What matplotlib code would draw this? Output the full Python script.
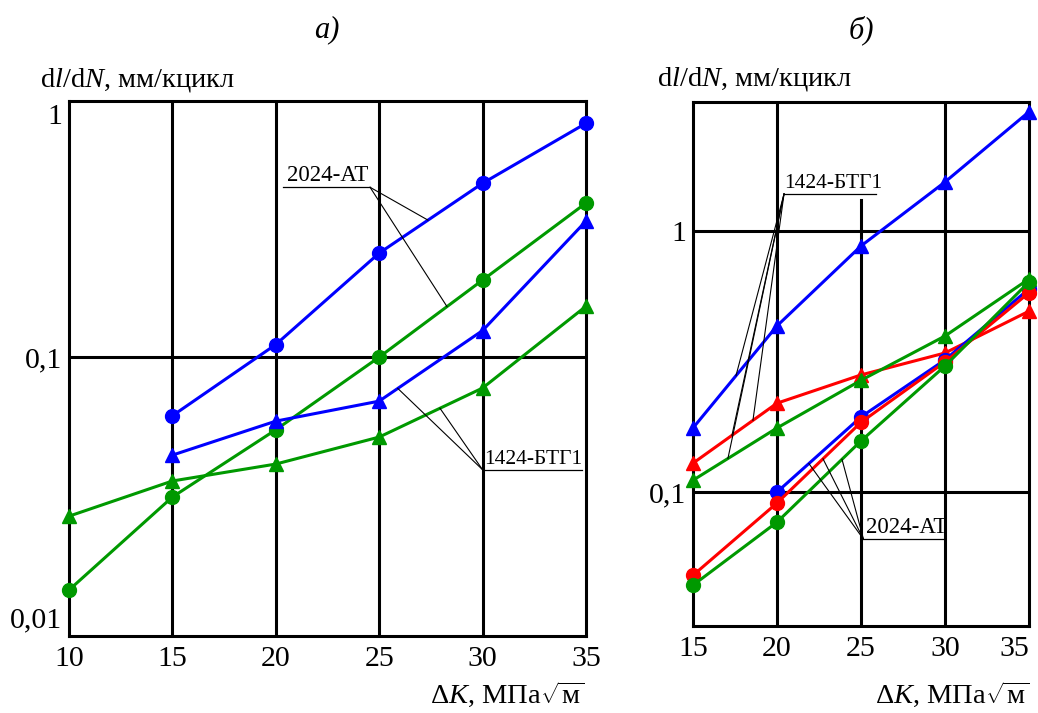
import numpy as np
import matplotlib.pyplot as plt
import matplotlib.transforms as mtransforms

plt.rcParams['font.family'] = ['Liberation Serif', 'DejaVu Serif']
plt.rcParams['mathtext.fontset'] = 'custom'
plt.rcParams['mathtext.rm'] = 'Liberation Serif'
plt.rcParams['mathtext.it'] = 'Liberation Serif:italic'

BLUE = '#0000ff'
GREEN = '#009900'
RED = '#ff0000'

# --- panel a) ---
a_x_all = [10, 15, 20, 25, 30, 35]
a_x_15 = [15, 20, 25, 30, 35]
a_blue_circ = [0.059, 0.112, 0.255, 0.478, 0.82]            # 2024-AT
a_green_circ = [0.0123, 0.0284, 0.052, 0.1, 0.2, 0.40]      # 2024-AT
a_blue_tri = [0.0414, 0.0562, 0.0673, 0.127, 0.34]          # 1424-БТГ1
a_green_tri = [0.0239, 0.0328, 0.0382, 0.0487, 0.0757, 0.158]  # 1424-БТГ1

# --- panel б) ---
b_x = [15, 20, 25, 30, 35]
b_x_20 = [20, 25, 30, 35]
b_blue_tri = [0.176, 0.433, 0.876, 1.54, 2.86]
b_red_tri = [0.129, 0.219, 0.281, 0.341, 0.493]
b_green_tri = [0.111, 0.176, 0.268, 0.396, 0.655]
b_blue_circ = [0.1, 0.194, 0.321, 0.60]
b_red_circ = [0.048, 0.0908, 0.185, 0.315, 0.58]
b_green_circ = [0.044, 0.0767, 0.157, 0.304, 0.638]

FS_TICK = 21.5
FS_LAB = 20.5
LW = 2.2
MS = 10

ylabel = r'd$\mathit{l}$/d$\mathit{N}$, мм/кцикл'
xlabel = r'Δ$\mathit{K}$, МПа$\sqrt{\mathrm{м}}$'


def on_line(xs, ys, x):
    return 10 ** np.interp(x, xs, np.log10(ys))


def series(ax, x, y, color, marker):
    ax.plot(x, y, color=color, lw=LW, marker=marker, ms=MS,
            clip_on=False, zorder=3)


def leader(ax, xa, xb, y, origin, ends, text, tx, ha, fs):
    # underline, label above it and thin lines down to the curves
    ax.plot([xa, xb], [y, y], color='black', lw=0.9, zorder=4)
    ax.text(tx, y * 1.055, text, ha=ha, va='baseline', fontsize=fs)
    for ex, ey in ends:
        ax.plot([origin, ex], [y, ey], color='black', lw=0.8, zorder=4)


fig = plt.figure(figsize=(10.38, 7.13), dpi=100)
ax1 = fig.add_axes([0.0665, 0.108, 0.498, 0.750])
ax2 = fig.add_axes([0.6676, 0.122, 0.3237, 0.735])

for ax in (ax1, ax2):
    ax.set_yscale('log')
    for s in ax.spines.values():
        s.set_linewidth(LW)
    ax.tick_params(length=0, labelsize=FS_TICK)
    ax.tick_params(axis='x', pad=7)
    ax.tick_params(axis='y', pad=5)
    ax.minorticks_off()

# panel a
ax1.set_xlim(10, 35)
ax1.set_ylim(0.00813, 1)
for xv in [15, 20, 25, 30]:
    ax1.axvline(xv, color='black', lw=LW, zorder=1)
ax1.axhline(0.1, color='black', lw=LW, zorder=1)

series(ax1, a_x_15, a_blue_circ, BLUE, 'o')
series(ax1, a_x_all, a_green_circ, GREEN, 'o')
series(ax1, a_x_15, a_blue_tri, BLUE, '^')
series(ax1, a_x_all, a_green_tri, GREEN, '^')

ax1.set_xticks(a_x_all)
ax1.set_yticks([0.01, 0.1, 1])
ax1.set_yticklabels(['0,01', '0,1', '1'])
# the top label "1" sits a little below the frame in the original
top_lab = ax1.get_yticklabels()[-1]
top_lab.set_transform(top_lab.get_transform() +
                      mtransforms.ScaledTranslation(0, -9 / 72, fig.dpi_scale_trans))
low_lab = ax1.get_yticklabels()[0]
low_lab.set_transform(low_lab.get_transform() +
                      mtransforms.ScaledTranslation(0, -3 / 72, fig.dpi_scale_trans))

leader(ax1, 20.35, 24.56, 0.461, 24.56,
       [(27.36, on_line(a_x_15, a_blue_circ, 27.36)),
        (28.28, on_line(a_x_all, a_green_circ, 28.28))],
       '2024-AT', 24.5, 'right', 16.5)
leader(ax1, 30.1, 34.8, 0.0363, 30.0,
       [(25.9, on_line(a_x_15, a_blue_tri, 25.9)),
        (27.94, on_line(a_x_all, a_green_tri, 27.94))],
       '1424-БТГ1', 30.1, 'left', 15.5)

# panel b
ax2.set_xlim(15, 35)
ax2.set_ylim(0.0307, 3.12)
for xv in [20, 30]:
    ax2.axvline(xv, color='black', lw=LW, zorder=1)
ax2.plot([25, 25], [0.0307, 1.315], color='black', lw=LW, zorder=1)
ax2.axhline(1, color='black', lw=LW, zorder=1)
ax2.axhline(0.1, color='black', lw=LW, zorder=1)

series(ax2, b_x, b_blue_tri, BLUE, '^')
series(ax2, b_x, b_red_tri, RED, '^')
series(ax2, b_x, b_green_tri, GREEN, '^')
series(ax2, b_x_20, b_blue_circ, BLUE, 'o')
series(ax2, b_x, b_red_circ, RED, 'o')
series(ax2, b_x, b_green_circ, GREEN, 'o')

ax2.set_xticks(b_x)
ax2.set_yticks([0.1, 1])
ax2.set_yticklabels(['0,1', '1'])
ax2.get_xticklabels()[-1].set_ha('right')

leader(ax2, 20.42, 25.89, 1.387, 20.42,
       [(17.56, on_line(b_x, b_blue_tri, 17.56)),
        (18.57, on_line(b_x, b_red_tri, 18.57)),
        (17.32, on_line(b_x, b_red_tri, 17.32)),
        (17.08, on_line(b_x, b_green_tri, 17.08))],
       '1424-БТГ1', 20.45, 'left', 15.5)
leader(ax2, 25.15, 30.0, 0.066, 25.15,
       [(21.9, on_line(b_x_20, b_blue_circ, 21.9)),
        (22.74, on_line(b_x, b_red_circ, 22.74)),
        (23.87, on_line(b_x, b_green_circ, 23.87))],
       '2024-AT', 25.3, 'left', 16.5)

# axis captions
ax1.text(-0.056, 1.028, ylabel, transform=ax1.transAxes, fontsize=FS_LAB,
         ha='left', va='baseline')
ax2.text(-0.107, 1.0305, ylabel, transform=ax2.transAxes, fontsize=FS_LAB,
         ha='left', va='baseline')
fig.text(585 / 1038, 1 - 703 / 713, xlabel, fontsize=FS_LAB, ha='right', va='baseline')
fig.text(1030 / 1038, 1 - 703 / 713, xlabel, fontsize=FS_LAB, ha='right', va='baseline')

fig.text(327 / 1038, 1 - 30 / 713, 'а)', fontsize=22, style='italic',
         ha='center', va='center')
fig.text(861 / 1038, 1 - 30 / 713, 'б)', fontsize=22, style='italic',
         ha='center', va='center')

fig.savefig('out.png', dpi=100)
